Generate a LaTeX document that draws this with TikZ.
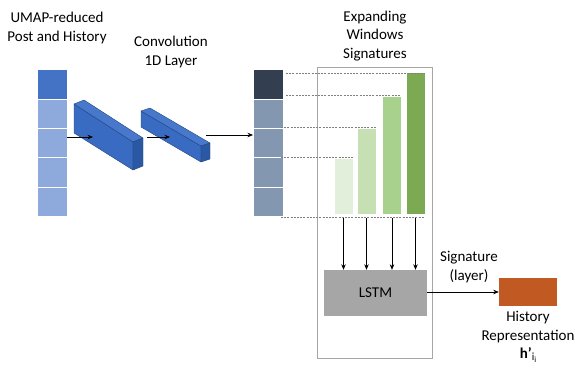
\documentclass[tikz,border=0pt]{standalone}
\usepackage{fontspec}
\setmainfont{Carlito}
\usetikzlibrary{arrows.meta,positioning}

\definecolor{umapdark}{HTML}{4472C4}
\definecolor{umaplight}{HTML}{8EA9DB}
\definecolor{convdark}{HTML}{333F50}
\definecolor{convlight}{HTML}{8497B0}
\definecolor{blockfront}{HTML}{3A6BC2}
\definecolor{blocktop}{HTML}{4778CC}
\definecolor{blockside}{HTML}{2B58A3}
\definecolor{blockedge}{HTML}{22467E}
\definecolor{sigA}{HTML}{E2EFDA}
\definecolor{sigB}{HTML}{C6E0B4}
\definecolor{sigC}{HTML}{A9D18E}
\definecolor{sigD}{HTML}{7BAA52}
\definecolor{lstmgray}{HTML}{A6A6A6}
\definecolor{historange}{HTML}{C05A22}
\definecolor{framegray}{HTML}{A6A6A6}

\begin{document}
\begin{tikzpicture}[x=1pt, y=-1pt,
  cell/.style={draw=white, line width=0.8pt, minimum width=30pt, minimum height=29.4pt, inner sep=0pt, outer sep=0pt},
  sigbar/.style={anchor=south, minimum width=18pt, inner sep=0pt, outer sep=0pt},
  lbl/.style={align=center, inner sep=0pt, font=\fontsize{15}{18.5}\selectfont},
  face/.style={draw=blockedge, line width=0.4pt, line join=round},
  arr/.style={-{Stealth[length=5.5pt,width=4.5pt]}, line width=0.7pt},
  dashline/.style={draw=gray, line width=0.6pt, dash pattern=on 2pt off 1.2pt}]
\useasboundingbox (0,0) rectangle (578,365);

%titles
  \node[lbl] (tumap) at (57,28) {UMAP-reduced\\Post and History};
  \node[lbl] (tconv) at (171,52) {Convolution\\1D Layer};
  \node[lbl] (tsig) at (375,36) {Expanding\\Windows\\Signatures};

%input stack
  \foreach \i/\c in {0/umapdark,1/umaplight,2/umaplight,3/umaplight,4/umaplight}
    \node[cell, fill=\c] (a\i) at (52,84.2+29.4*\i) {};

%convolution blocks
  \draw[face, fill=blockfront] (74,104) -- (133,142) -- (133,170) -- (74,133) -- cycle;
  \draw[face, fill=blocktop] (74,104) -- (84,100) -- (143,138) -- (133,142) -- cycle;
  \draw[face, fill=blockside] (133,142) -- (143,138) -- (143,166) -- (133,170) -- cycle;
  \draw[face, fill=blockfront] (141,111) -- (201,146) -- (201,162) -- (141,127) -- cycle;
  \draw[face, fill=blocktop] (141,111) -- (150,108) -- (210,143) -- (201,146) -- cycle;
  \draw[face, fill=blockside] (201,146) -- (210,143) -- (210,159) -- (201,162) -- cycle;
  \coordinate (k1in) at (93,137);
  \coordinate (k1out) at (147,137);
  \coordinate (k2in) at (170,137);
  \coordinate (k2out) at (206,135);

%convolved stack
  \foreach \i/\c in {0/convdark,1/convlight,2/convlight,3/convlight,4/convlight}
    \node[cell, fill=\c] (c\i) at (268,84.2+29.4*\i) {};

%signature frame
  \draw[framegray, line width=0.9pt] (317,67) rectangle (432,358);

%signature bars
  \node[sigbar, fill=sigA, minimum height=55pt] (b1) at (343.5,214) {};
  \node[sigbar, fill=sigB, minimum height=85pt] (b2) at (366.5,214) {};
  \node[sigbar, fill=sigC, minimum height=117pt] (b3) at (392,214) {};
  \node[sigbar, fill=sigD, minimum height=141pt] (b4) at (415.5,214) {};

%dashed guides
  \coordinate (d4) at (c0.east |- b4.north);
  \coordinate (d3) at (c1.east |- b3.north);
  \coordinate (d2) at (c2.east |- b2.north);
  \coordinate (d1) at (c3.east |- b1.north);
  \draw[dashline] ([xshift=3pt]d4) -- (b4.north east);
  \draw[dashline] ([xshift=3pt,yshift=2pt]d3) -- ([yshift=2pt]b3.north east);
  \draw[dashline] ([xshift=-2pt,yshift=2pt]d2) -- ([yshift=2pt]b2.north east);
  \draw[dashline] ([xshift=-2pt,yshift=2pt]d1) -- ([yshift=2pt]b1.north east);
  \draw[dashline] ([xshift=-2pt,yshift=-1pt]c4.south east) -- ([yshift=-1pt]c4.south east -| b4.east);

%lstm and output
  \node[fill=lstmgray, minimum width=103pt, minimum height=46pt, inner sep=0pt,
        font=\fontsize{15}{18}\selectfont] (lstm) at (375.5,293) {LSTM};
  \node[fill=historange, minimum width=58pt, minimum height=28pt, inner sep=0pt] (hist) at (528,292) {};
  \node[lbl] (tlayer) at (469,267) {Signature\\(layer)};
  \node[lbl, below=5pt of hist] (thist) {History\\Representation\\
    \textbf{h'}\raisebox{-2pt}{\fontsize{11}{11}\selectfont i\raisebox{-2pt}{\fontsize{8}{8}\selectfont i}}};

%arrows
  \draw[arr] (a2.east |- k1in) -- (k1in);
  \draw[arr] (k1out) -- (k2in);
  \draw[arr] (k2out) -- (k2out -| c2.west);
  \foreach \j in {1,...,4}
    \draw[arr] ([yshift=-4pt]b\j.south) -- (b\j.south |- lstm.north);
  \draw[arr] (lstm.east |- hist.west) -- (hist.west);
\end{tikzpicture}
\end{document}
